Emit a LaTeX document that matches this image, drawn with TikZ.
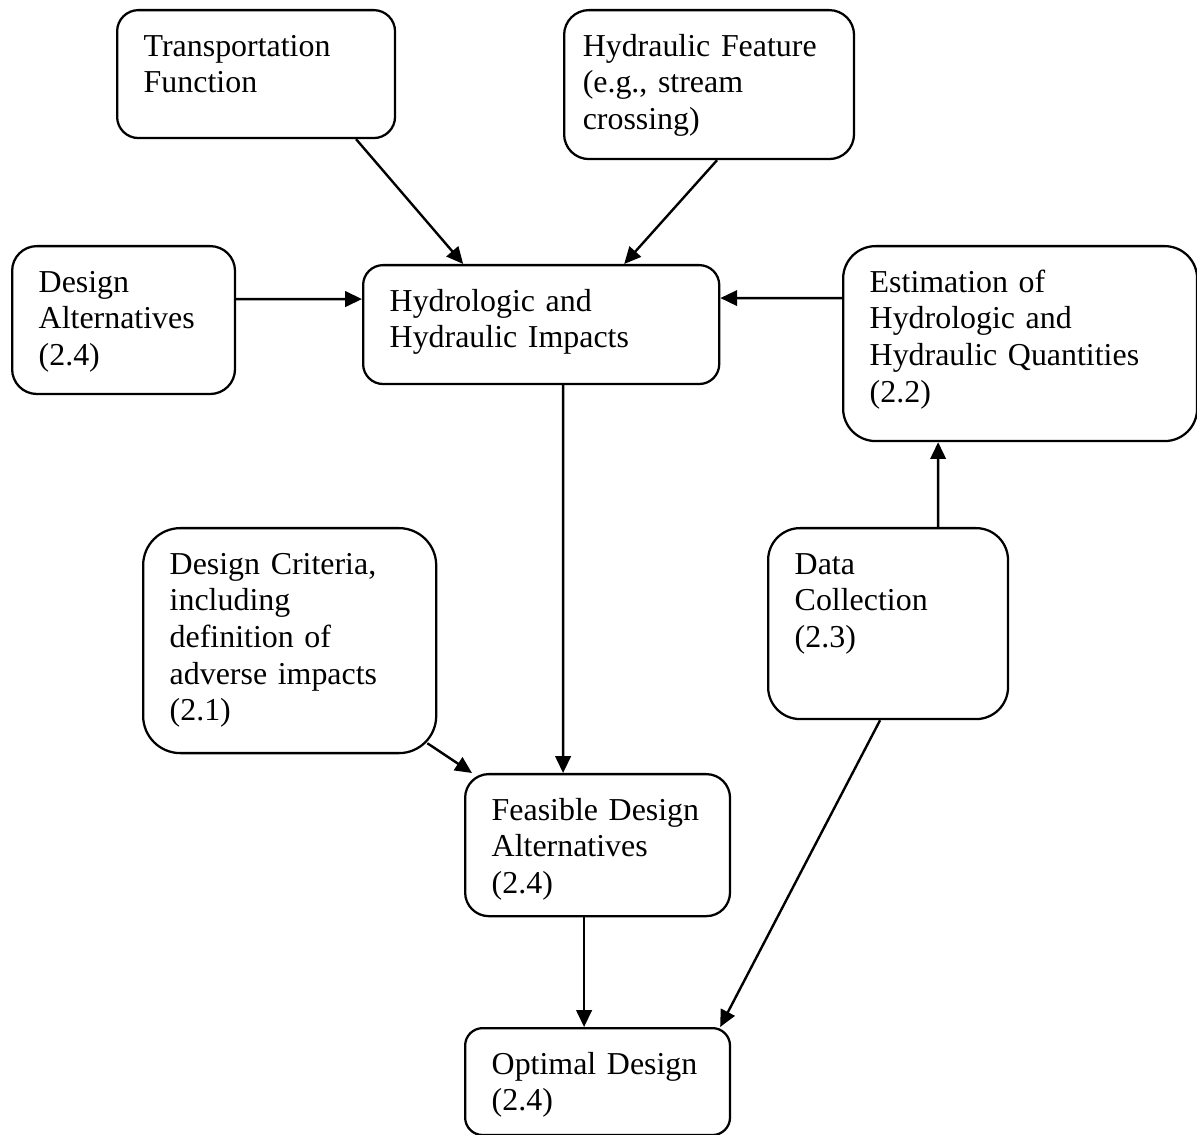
\documentclass[tikz,border=0pt]{standalone}
\usepackage{fontspec}
\setmainfont{Liberation Serif}
\usepackage{tikz}
\usetikzlibrary{arrows.meta,calc}

\tikzset{
  box/.style={draw, line width=0.85pt, anchor=north west, align=left,
    inner xsep=10pt, inner ysep=0pt, text height=17.3pt,
    font=\fontsize{12}{13.8}\selectfont},
  link/.style={->, line width=0.9pt}
}

\begin{document}
\begin{tikzpicture}[x=0.376pt, y=-0.376pt, >={Triangle[length=6.3pt,width=5.8pt]}]
\useasboundingbox (0,0) rectangle (1197,1135);

\node[box, text width=84.5pt, text depth=30.8pt, rounded corners=8pt]   (trans)  at (116,9)    {Transportation\\Function};
\node[box, inner xsep=7pt, text width=95pt, text depth=38.7pt, rounded corners=9.3pt] (feat) at (563,9) {Hydraulic Feature\\(e.g., stream\\crossing)};
\node[box, text width=63.8pt, text depth=38.3pt, rounded corners=9.3pt] (alts)   at (11,245)   {Design\\Alternatives\\(2.4)};
\node[box, text width=113.9pt, text depth=27.4pt, rounded corners=7.5pt] (impact) at (362,264) {Hydrologic and\\Hydraulic Impacts};
\node[box, text width=113.1pt, text depth=56pt, rounded corners=12.2pt] (estim)  at (842,245)  {Estimation of\\Hydrologic and\\Hydraulic Quantities\\(2.2)};
\node[box, text width=90.2pt, text depth=67.3pt, rounded corners=14pt]  (crit)   at (142,527)  {Design Criteria,\\including\\definition of\\adverse impacts\\(2.1)};
\node[box, text width=70.2pt, text depth=54.5pt, rounded corners=12pt]  (data)   at (767,527)  {Data\\Collection\\(2.3)};
\node[box, text width=79.6pt, text depth=36.1pt, rounded corners=8.9pt] (feas)   at (464,773)  {Feasible Design\\Alternatives\\(2.4)};
\node[box, text width=79.6pt, text depth=22.9pt, rounded corners=6.6pt] (optim)  at (464,1027) {Optimal Design\\(2.4)};

\path[link]
  ($(trans.south)+(100,0)$)    edge ($(impact.north)+(-78,0)$)
  ($(feat.south)+(8,0)$)       edge ($(impact.north)+(83,0)$)
  ($(alts.east)+(0,-21)$)      edge ($(impact.west)+(0,-25.5)$)
  ($(estim.west)+(0,-45.5)$)   edge ($(impact.east)+(0,-26.5)$)
  ($(impact.south)+(22,0)$)    edge ($(feas.north)+(-34.5,0)$)
  ($(crit.south east)+(-10,-11)$) edge ($(feas.north west)+(8,0)$)
  ($(data.north)+(50,0)$)      edge ($(estim.south)+(-82,0)$)
  ($(data.south)+(-8,0)$)      edge ($(optim.north east)+(-11,0)$)
  ($(feas.south)+(-13.5,0)$)   edge ($(optim.north)+(-13.5,0)$);
\end{tikzpicture}
\end{document}
